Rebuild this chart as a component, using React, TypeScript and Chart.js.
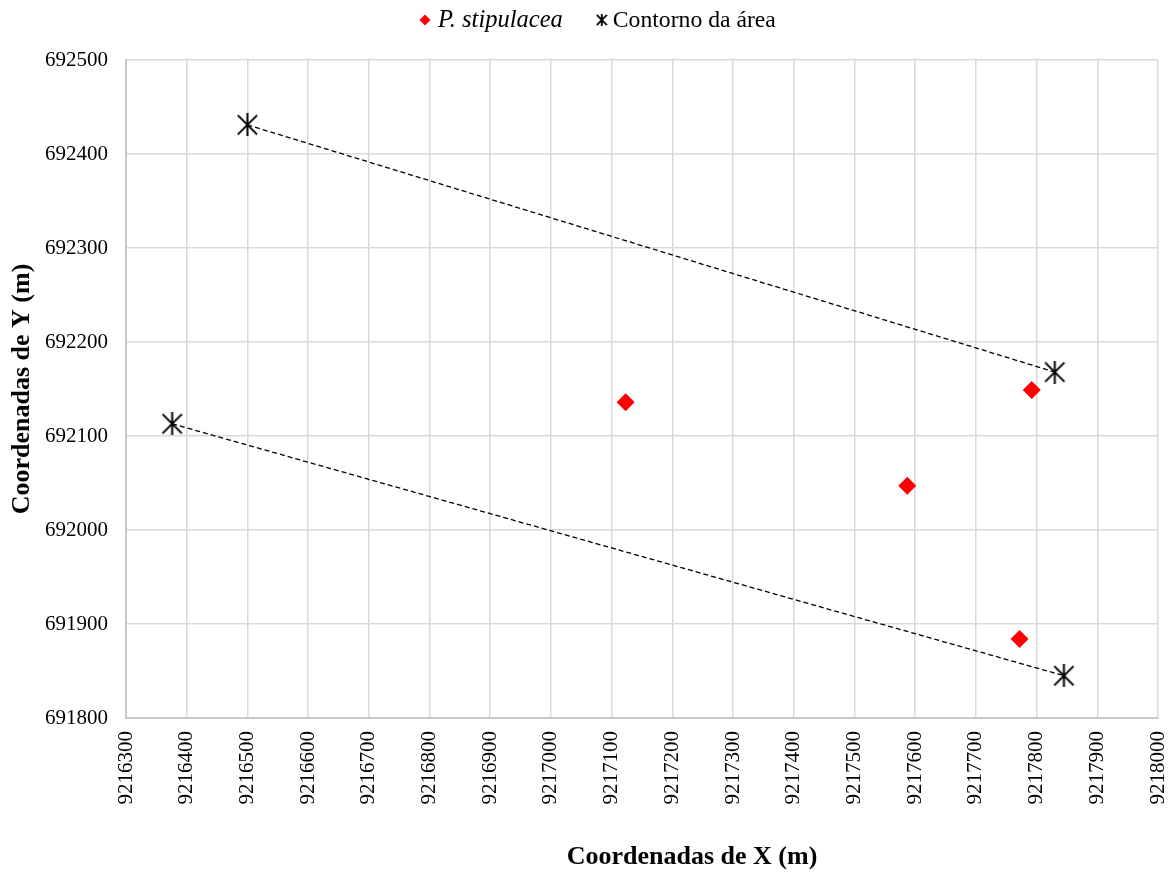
import React, { useEffect, useRef } from "react";
import { Chart, registerables } from "chart.js";

Chart.register(...registerables);

// ---- Data ----
const stipulaceaX = [9217123, 9217792, 9217587, 9217772];
const stipulaceaY = [692136, 692149, 692047, 691884];

const contornoNorteX = [9216500, 9217830];
const contornoNorteY = [692431, 692168];

const contornoSulX = [9216376, 9217845];
const contornoSulY = [692113, 691845];

const xTickMin = 9216300;
const xTickMax = 9218000;
const yTickMin = 691800;
const yTickMax = 692500;
const tickStep = 100;

const labelStipulacea = "P. stipulacea";
const labelContorno = "Contorno da área";
const xTitle = "Coordenadas de X (m)";
const yTitle = "Coordenadas de Y (m)";

const FONT = "'Liberation Serif', 'Times New Roman', serif";

function makeStar(size: number, lw: number): HTMLCanvasElement {
  const c = document.createElement("canvas");
  c.width = size;
  c.height = size;
  const ctx = c.getContext("2d")!;
  ctx.strokeStyle = "#000";
  ctx.lineWidth = lw;
  ctx.lineCap = "butt";
  const h = size / 2;
  const d = size * 0.42;
  ctx.beginPath();
  ctx.moveTo(h, 0);
  ctx.lineTo(h, size);
  ctx.moveTo(h - d, h - d);
  ctx.lineTo(h + d, h + d);
  ctx.moveTo(h + d, h - d);
  ctx.lineTo(h - d, h + d);
  ctx.stroke();
  return c;
}

const zip = (xs: number[], ys: number[]) => xs.map((x, i) => ({ x, y: ys[i] }));

export default function App() {
  const ref = useRef<HTMLCanvasElement | null>(null);

  useEffect(() => {
    if (!ref.current) return;
    const star = makeStar(23, 2);
    const legendStar = makeStar(12, 1.8);

    const overlay = {
      id: "overlay",
      afterDraw(chart: any) {
        const ctx = chart.ctx as CanvasRenderingContext2D;
        const area = chart.chartArea;
        ctx.save();
        // Legend
        ctx.textBaseline = "middle";
        ctx.textAlign = "left";
        const ly = 20;
        const italicFont = `italic 24.5px ${FONT}`;
        const plainFont = `23.7px ${FONT}`;
        ctx.font = italicFont;
        const w1 = ctx.measureText(labelStipulacea).width;
        let x = 419.5;
        // diamond
        ctx.fillStyle = "#ff0000";
        ctx.beginPath();
        ctx.moveTo(x + 5.5, ly - 5.5);
        ctx.lineTo(x + 11, ly);
        ctx.lineTo(x + 5.5, ly + 5.5);
        ctx.lineTo(x, ly);
        ctx.closePath();
        ctx.fill();
        x += 18.5;
        ctx.fillStyle = "#000";
        ctx.font = italicFont;
        ctx.fillText(labelStipulacea, x, ly + 1);
        x += w1 + 33;
        ctx.drawImage(legendStar, x, ly - 6);
        x += 17;
        ctx.font = plainFont;
        ctx.fillText(labelContorno, x, ly + 1);

        // Axis titles
        ctx.font = `bold 26px ${FONT}`;
        ctx.textAlign = "center";
        ctx.fillText(xTitle, 692, 857);
        ctx.translate(22, (area.top + area.bottom) / 2);
        ctx.rotate(-Math.PI / 2);
        ctx.fillText(yTitle, 0, 0);
        ctx.restore();
      },
    };

    const chart = new Chart(ref.current, {
      type: "scatter",
      data: {
        datasets: [
          {
            label: labelStipulacea,
            data: zip(stipulaceaX, stipulaceaY),
            pointStyle: "rectRot",
            pointRadius: 9,
            pointHoverRadius: 9,
            backgroundColor: "#ff0000",
            borderColor: "#ff0000",
            borderWidth: 0,
            showLine: false,
          },
          {
            label: labelContorno,
            data: zip(contornoNorteX, contornoNorteY),
            pointStyle: star as any,
            showLine: true,
            borderColor: "#000",
            borderWidth: 1.3,
            borderDash: [5, 3],
            backgroundColor: "#000",
          },
          {
            label: labelContorno + " (2)",
            data: zip(contornoSulX, contornoSulY),
            pointStyle: star as any,
            showLine: true,
            borderColor: "#000",
            borderWidth: 1.3,
            borderDash: [5, 3],
            backgroundColor: "#000",
          },
        ],
      },
      options: {
        animation: false,
        responsive: false,
        events: [],
        layout: { padding: { top: 60, right: 17, left: 0, bottom: 0 } },
        plugins: {
          legend: { display: false },
          tooltip: { enabled: false },
          title: { display: false },
        },
        scales: {
          x: {
            type: "linear",
            min: xTickMin,
            max: xTickMax,
            afterFit(scale: any) {
              scale.height = 161;
              scale.paddingLeft = 0;
              scale.paddingRight = 0;
            },
            ticks: {
              stepSize: tickStep,
              autoSkip: false,
              maxRotation: 90,
              minRotation: 90,
              padding: 13,
              color: "#000",
              font: { family: FONT, size: 21 },
              callback: (v: any) => String(v),
            },
            grid: { color: "#d9d9d9", lineWidth: 1.5, drawTicks: false },
            border: { color: "#c8c8c8", width: 2 },
          },
          y: {
            type: "linear",
            min: yTickMin,
            max: yTickMax,
            afterFit(scale: any) {
              scale.width = 126;
              scale.paddingTop = 0;
              scale.paddingBottom = 0;
            },
            ticks: {
              stepSize: tickStep,
              padding: 18,
              color: "#000",
              font: { family: FONT, size: 21 },
              callback: (v: any) => String(v),
            },
            grid: { color: "#d9d9d9", lineWidth: 1.5, drawTicks: false },
            border: { color: "#c8c8c8", width: 2 },
          },
        },
      },
      plugins: [overlay],
    } as any);
    return () => chart.destroy();
  }, []);

  return (
    <div style={{ position: "fixed", left: 0, top: 0, width: 1175, height: 879, background: "#fff" }}>
      <canvas ref={ref} width={1175} height={879} style={{ display: "block" }} />
    </div>
  );
}
